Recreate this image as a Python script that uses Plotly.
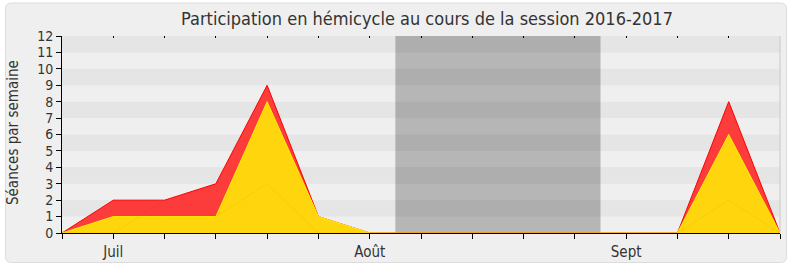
import plotly.graph_objects as go

# Weekly attendance, session 2016-2017 (one point per week)
weeks = list(range(15))
month_ticks = [1, 6, 11]
month_labels = ["Juil", "Août", "Sept"]
presences = [0, 2, 2, 3, 9, 1, 0, 0, 0, 0, 0, 0, 0, 8, 0]
interventions = [0, 1, 1, 1, 8, 1, 0, 0, 0, 0, 0, 0, 0, 6, 0]
questions = [0, 0, 2, 1, 3, 0, 0, 0, 0, 0, 0, 0, 0, 2, 0]
vacation = (6.5, 10.5)
y_max = 12

W, H = 790, 267
L, R, T, B = 62, 10, 36, 34
PW, PH = W - L - R, H - T - B
FONT = "DejaVu Sans Condensed, DejaVu Sans, sans-serif"


def px(x):
    return (x - L) / PW


def py(y):
    return (H - B - y) / PH


fig = go.Figure()

fig.add_trace(go.Scatter(
    x=weeks, y=presences, mode="lines", fill="tozeroy",
    line=dict(color="#ff0000", width=1), fillcolor="rgba(255,35,35,0.88)",
    hoverinfo="skip", showlegend=False))
fig.add_trace(go.Scatter(
    x=weeks, y=interventions, mode="lines", fill="tozeroy",
    line=dict(color="#ffee00", width=1), fillcolor="#ffd50d",
    hoverinfo="skip", showlegend=False))
fig.add_trace(go.Scatter(
    x=weeks, y=questions, mode="lines",
    line=dict(color="rgba(120,60,0,0.05)", width=1),
    hoverinfo="skip", showlegend=False))
# carrier for the top tick marks
fig.add_trace(go.Scatter(x=[0, 14], y=[0, 0], xaxis="x2", mode="none",
                         hoverinfo="skip", showlegend=False))

shapes = []
# rounded frame around the whole chart
x0, y0, x1, y1, r = px(5.5), py(3), px(786.5), py(262.5), 6
rx, ry = r / PW, r / PH
shapes.append(dict(
    type="path", xref="paper", yref="paper", layer="below",
    path=(f"M {x0+rx},{y0} L {x1-rx},{y0} Q {x1},{y0} {x1},{y0-ry} "
          f"L {x1},{y1+ry} Q {x1},{y1} {x1-rx},{y1} L {x0+rx},{y1} "
          f"Q {x0},{y1} {x0},{y1+ry} L {x0},{y0-ry} Q {x0},{y0} {x0+rx},{y0} Z"),
    fillcolor="#efefef", line=dict(color="#dcdcdc", width=1)))
# horizontal stripes
for k in range(0, y_max, 2):
    shapes.append(dict(type="rect", xref="paper", yref="y", layer="below",
                       x0=0, x1=1, y0=k + 1, y1=k + 2,
                       fillcolor="#e5e5e5", line=dict(width=0)))
# parliamentary recess
shapes.append(dict(type="rect", xref="x", yref="y", layer="below",
                   x0=vacation[0], x1=vacation[1], y0=0, y1=y_max,
                   fillcolor="rgba(0,0,0,0.24)", line=dict(width=0)))
# right border of the plot area
shapes.append(dict(type="line", xref="paper", yref="y", x0=1, x1=1, y0=0,
                   y1=y_max, line=dict(color="#c8c8c8", width=1)))

fig.update_layout(
    width=W, height=H,
    margin=dict(l=L, r=R, t=T, b=B, autoexpand=False),
    paper_bgcolor="white", plot_bgcolor="#f9f9f9",
    font=dict(family=FONT, color="#333333", size=14),
    title=dict(text="Participation en hémicycle au cours de la session 2016-2017",
               xref="container", x=427 / W, xanchor="center",
               yref="container", y=1 - 19 / H, yanchor="middle",
               font=dict(size=18, color="#333333")),
    shapes=shapes,
    annotations=[dict(text="Séances par semaine", textangle=-90,
                      xref="paper", yref="paper", x=px(13), y=py(133),
                      xanchor="center", yanchor="middle", showarrow=False,
                      font=dict(size=15, color="#333333"))],
    xaxis=dict(range=[0, 14], tickmode="array", tickvals=weeks,
               ticktext=[month_labels[month_ticks.index(w)] if w in month_ticks else ""
                         for w in weeks],
               ticks="outside", ticklen=5, tickcolor="#000", showgrid=False,
               zeroline=False, showline=True, linecolor="#000", linewidth=1,
               tickfont=dict(size=15, color="#333333"), fixedrange=True,
               automargin=False),
    xaxis2=dict(range=[0, 14], overlaying="x", side="top", tickmode="array",
                tickvals=weeks, ticks="inside", ticklen=2, tickcolor="#000",
                showticklabels=False, showgrid=False, zeroline=False,
                showline=False, automargin=False),
    yaxis=dict(range=[0, y_max], tickmode="array", tickvals=list(range(y_max + 1)),
               ticks="outside", ticklen=5, tickcolor="#000", showgrid=False,
               zeroline=False, showline=True, linecolor="#000", linewidth=1,
               tickfont=dict(size=14, color="#333333"),
               fixedrange=True, automargin=False),
)

fig.write_html("out.html")
